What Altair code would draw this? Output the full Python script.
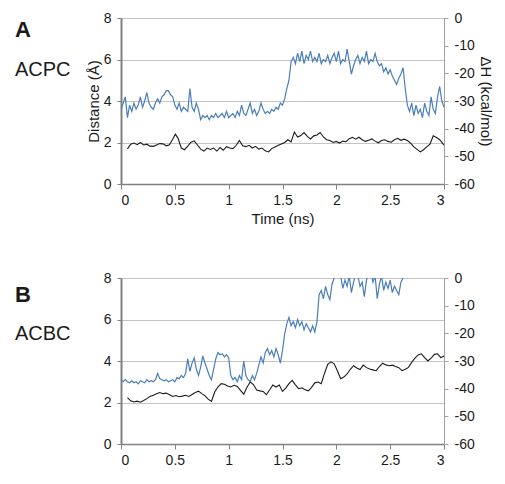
import altair as alt
import pandas as pd

FONT = "Liberation Sans"
BLUE = "#4a7ebb"
BLACK = "#1a1a1a"

X_TICKS = [0, 0.5, 1, 1.5, 2, 2.5, 3]
LEFT_TICKS = [0, 2, 4, 6, 8]
RIGHT_TICKS = [-60, -50, -40, -30, -20, -10, 0]

# Panel A (ACPC) – distance (Å), sampled every 0.02 ns
time_blue = [round(i * 0.02, 2) for i in range(151)]
dist_a = [
    3.6, 3.9, 4.2, 3.2, 3.8, 3.5, 3.9, 3.6, 3.8, 4.2,
    3.7, 4.0, 4.4, 3.9, 3.7, 3.6, 3.9, 4.1, 3.9, 4.2,
    4.3, 4.5, 4.5, 4.3, 4.2, 3.8, 3.6, 3.9, 3.5, 3.7,
    3.6, 3.5, 4.6, 3.7, 3.5, 3.9, 3.6, 3.1, 3.3, 3.2,
    3.3, 3.1, 3.3, 3.2, 3.4, 3.2, 3.3, 3.4, 3.2, 3.5,
    3.2, 3.3, 3.4, 3.2, 3.5, 3.3, 3.8, 3.4, 3.3, 3.6,
    3.9, 3.4, 3.6, 3.3, 3.5, 3.9, 3.6, 3.4, 3.5, 3.4,
    3.6, 3.5, 3.7, 3.6, 3.9, 3.8, 4.1, 4.6, 5.0, 5.9,
    6.1, 5.8, 6.3, 5.9, 6.4, 5.8, 6.2, 6.0, 6.4, 5.9,
    6.1, 5.9, 6.3, 5.8, 6.0, 5.9, 6.2, 5.8, 6.1, 6.3,
    5.9, 6.4, 5.8, 6.0, 5.9, 6.5, 5.9, 5.3, 5.7, 6.0,
    6.2, 5.8, 6.1, 5.9, 6.4, 5.8, 6.0, 5.9, 6.3, 5.9,
    5.7, 5.8, 5.4, 5.6, 5.3, 5.5, 5.2, 5.0, 4.8, 5.1,
    5.3, 5.6, 4.6, 3.8, 3.5, 3.9, 3.3, 3.8, 3.4, 3.6,
    3.2, 3.9, 3.5, 3.3, 4.2, 3.6, 3.4, 4.2, 4.7, 4.0,
    3.7,
]

# Panel A – ΔH (kcal/mol)
time_black_a = [
    0.06, 0.09, 0.12, 0.15, 0.18, 0.21, 0.24, 0.27, 0.30, 0.33,
    0.36, 0.39, 0.42, 0.45, 0.48, 0.505, 0.53, 0.56, 0.59, 0.62,
    0.65, 0.68, 0.71, 0.74, 0.77, 0.80, 0.83, 0.86, 0.89, 0.92,
    0.95, 0.98, 1.01, 1.04, 1.07, 1.10, 1.13, 1.16, 1.19, 1.22,
    1.25, 1.28, 1.31, 1.34, 1.37, 1.40, 1.43, 1.46, 1.49, 1.52,
    1.55, 1.58, 1.61, 1.64, 1.67, 1.70, 1.73, 1.76, 1.79, 1.82,
    1.85, 1.88, 1.91, 1.94, 1.97, 2.00, 2.03, 2.06, 2.09, 2.12,
    2.15, 2.18, 2.21, 2.24, 2.27, 2.30, 2.33, 2.36, 2.39, 2.42,
    2.45, 2.48, 2.51, 2.54, 2.57, 2.60, 2.63, 2.66, 2.69, 2.72,
    2.75, 2.78, 2.81, 2.84, 2.87, 2.90, 2.93, 2.96, 3.00,
]
dh_a = [
    -47.3, -45.6, -45.2, -45.8, -45.0, -45.9, -45.6, -46.3, -46.4, -45.9,
    -45.4, -45.5, -46.2, -45.8, -43.8, -42.0, -43.5, -47.0, -47.6, -46.3,
    -44.9, -44.4, -45.9, -47.4, -48.1, -47.0, -47.5, -47.0, -48.1, -46.8,
    -47.8, -46.5, -47.0, -47.2, -46.0, -44.3, -46.2, -46.5, -46.0, -47.0,
    -46.4, -47.4, -47.0, -48.0, -48.4, -47.2, -46.6, -46.0, -45.5, -45.0,
    -44.0, -44.8, -41.2, -43.0, -42.5, -41.4, -42.8, -43.7, -42.6, -42.3,
    -41.4, -43.0, -44.0, -44.3, -45.0, -44.6, -45.2, -44.5, -44.7, -43.6,
    -43.1, -43.8, -43.1, -44.0, -44.6, -44.2, -43.7, -44.5, -45.1, -44.3,
    -44.0, -44.6, -44.9, -44.0, -43.5, -44.2, -43.8, -44.3, -45.2, -46.6,
    -47.5, -48.4, -47.6, -46.6, -45.6, -42.6, -43.2, -44.0, -46.0,
]

# Panel B (ACBC) – distance (Å); values above 8 run off the top of the plot
dist_b = [
    3.1, 3.0, 3.1, 3.0, 2.95, 3.05, 2.95, 3.0, 2.9, 3.05,
    3.0, 2.95, 3.1, 3.0, 3.05, 3.0, 3.1, 3.4, 3.15, 3.1,
    3.05, 3.1, 3.0, 3.05, 3.1, 3.0, 3.2, 3.15, 3.3, 3.2,
    3.4, 4.1, 3.5, 3.9, 4.15, 3.6, 3.3, 3.7, 4.25, 3.9,
    3.6, 3.3, 3.1, 3.6, 4.1, 4.4, 4.3, 4.35, 4.2, 4.3,
    4.15, 3.3, 3.1, 3.2, 3.0, 3.3, 3.1, 4.0, 3.3, 3.1,
    3.0, 3.3, 3.1, 3.4, 3.8, 4.2, 3.9, 4.4, 4.6, 4.3,
    4.5, 4.2, 4.6, 4.3, 3.9, 4.5, 5.3, 5.8, 6.1, 5.7,
    5.9, 5.6, 6.0, 5.7, 5.9, 5.5, 5.8, 5.6, 5.4, 5.7,
    5.4, 5.9, 7.2, 7.4, 7.0, 7.6, 7.2, 6.95, 7.7, 8.0,
    8.3, 8.2, 8.1, 7.5, 7.9, 7.6, 8.1, 7.3, 7.8, 8.2,
    8.1, 7.6, 7.8, 7.1, 7.9, 8.2, 8.3, 7.8, 8.1, 7.0,
    7.7, 8.1, 7.4, 7.8, 7.5, 7.9, 7.3, 7.6, 7.4, 7.2,
    7.8, 8.0, 8.3, 8.5, 8.4, 8.6, 8.3, 8.7, 8.5, 8.6,
    8.4, 8.8, 8.5, 8.6, 8.4, 8.7, 8.5, 8.6, 8.5, 8.7,
    8.4,
]

# Panel B – ΔH (kcal/mol)
time_black_b = [
    0.06, 0.09, 0.12, 0.15, 0.18, 0.21, 0.24, 0.27, 0.30, 0.33,
    0.36, 0.39, 0.42, 0.45, 0.48, 0.51, 0.54, 0.57, 0.60, 0.63,
    0.66, 0.69, 0.72, 0.75, 0.78, 0.81, 0.84, 0.87, 0.90, 0.93,
    0.96, 0.99, 1.02, 1.05, 1.08, 1.11, 1.14, 1.17, 1.20, 1.23,
    1.26, 1.29, 1.32, 1.35, 1.38, 1.41, 1.44, 1.47, 1.50, 1.53,
    1.56, 1.59, 1.62, 1.65, 1.68, 1.71, 1.74, 1.77, 1.80, 1.83,
    1.86, 1.89, 1.92, 1.95, 1.98, 2.01, 2.04, 2.07, 2.10, 2.13,
    2.16, 2.19, 2.22, 2.25, 2.28, 2.31, 2.34, 2.37, 2.40, 2.43,
    2.46, 2.49, 2.52, 2.55, 2.58, 2.61, 2.64, 2.67, 2.70, 2.73,
    2.76, 2.79, 2.82, 2.85, 2.88, 2.91, 2.94, 2.97, 3.00,
]
dh_b = [
    -43.2, -44.4, -44.8, -44.5, -44.9, -44.3, -43.6, -42.8, -42.4, -41.8,
    -41.4, -41.8, -41.6, -42.2, -42.8, -42.5, -42.9, -42.7, -42.4, -42.8,
    -42.1, -41.4, -40.9, -41.8, -42.6, -43.8, -44.6, -41.2, -39.4, -38.2,
    -38.4, -39.0, -39.4, -38.8, -39.2, -40.6, -42.0, -39.5, -37.6, -38.5,
    -40.5, -40.8, -41.0, -42.2, -40.5, -38.7, -39.4, -38.7, -41.0, -39.8,
    -38.2, -37.0, -38.6, -40.0, -39.7, -40.4, -40.8, -39.5, -37.9, -37.6,
    -38.2, -34.5, -31.2, -30.3, -31.0, -33.5, -36.4, -35.8, -34.7, -33.0,
    -31.7, -32.5, -33.1, -31.5, -32.4, -32.9, -33.2, -33.5, -32.0, -30.8,
    -31.4, -31.7, -31.5, -32.0, -32.4, -33.5, -33.0, -32.3, -30.5, -29.0,
    -27.8, -27.4, -28.8, -30.0, -29.0, -27.6, -27.4, -28.8, -28.2,
]

LETTERS = ["A", "B"]
NAMES = ["ACPC", "ACBC"]
X_TITLE = "Time (ns)"
LEFT_TITLE = "Distance (Å)"
RIGHT_TITLE = "ΔH (kcal/mol)"

common_axis = dict(
    labelFont=FONT, titleFont=FONT, labelFontSize=14, titleFontSize=15,
    titleFontWeight="normal", labelColor=BLACK, titleColor=BLACK,
)

PLOT_W = 323
PLOT_H = 166


def panel(dist, kt, kv, letter, name, first, letter_y, name_y):
    blue_df = pd.DataFrame({"t": time_blue, "d": dist})
    black_df = pd.DataFrame({"t": kt, "h": kv})
    xscale = alt.Scale(domain=[0, 3], nice=False)

    def x_enc():
        return alt.X(
            "t:Q", scale=xscale,
            title=X_TITLE if first else None,
            axis=alt.Axis(values=X_TICKS, format="~g", grid=False,
                          domainColor="#808080", domainWidth=1.5,
                          tickColor="#808080", tickSize=5, labelPadding=4,
                          titlePadding=4, **common_axis),
        )

    blue = alt.Chart(blue_df).mark_line(color=BLUE, strokeWidth=1.2, clip=True).encode(
        x=x_enc(),
        y=alt.Y("d:Q", scale=alt.Scale(domain=[0, 8], nice=False, zero=False),
                title=LEFT_TITLE if first else None,
                axis=alt.Axis(orient="left", values=LEFT_TICKS, grid=True,
                              gridColor="#c4c4c4", gridWidth=1,
                              domainColor="#808080", domainWidth=2,
                              tickColor="#808080", tickSize=4, labelPadding=6,
                              titlePadding=2, **common_axis)),
    )
    black = alt.Chart(black_df).mark_line(color=BLACK, strokeWidth=1.1, clip=True).encode(
        x=x_enc(),
        y=alt.Y("h:Q", scale=alt.Scale(domain=[-60, 0], nice=False, zero=False),
                title=RIGHT_TITLE if first else None,
                axis=alt.Axis(orient="right", values=RIGHT_TICKS, grid=False,
                              labelExpr="'' + datum.value",
                              domainColor="#a0a0a0", domainWidth=1,
                              tickColor="#a0a0a0", tickSize=4, labelPadding=6,
                              titlePadding=3, **common_axis)),
    )
    letter_txt = alt.Chart(pd.DataFrame({"s": [letter]})).mark_text(
        align="left", baseline="middle", fontSize=22, fontWeight="bold",
        font=FONT, color=BLACK,
    ).encode(x=alt.value(-106), y=alt.value(letter_y), text="s:N")
    name_txt = alt.Chart(pd.DataFrame({"s": [name]})).mark_text(
        align="left", baseline="middle", fontSize=20, font=FONT, color=BLACK,
    ).encode(x=alt.value(-106), y=alt.value(name_y), text="s:N")

    return alt.layer(blue, black, letter_txt, name_txt).resolve_scale(
        y="independent"
    ).properties(width=PLOT_W, height=PLOT_H)


pa = panel(dist_a, time_black_a, dh_a, LETTERS[0], NAMES[0], True, 12, 52)
pb = panel(dist_b, time_black_b, dh_b, LETTERS[1], NAMES[1], False, 17, 56)

chart = alt.vconcat(pa, pb, spacing=45).properties(
    padding={"left": 7, "top": 3, "right": 3, "bottom": 0}
).configure_view(stroke=None)

chart.save("out.html", embed_options={"renderer": "svg", "actions": False})
